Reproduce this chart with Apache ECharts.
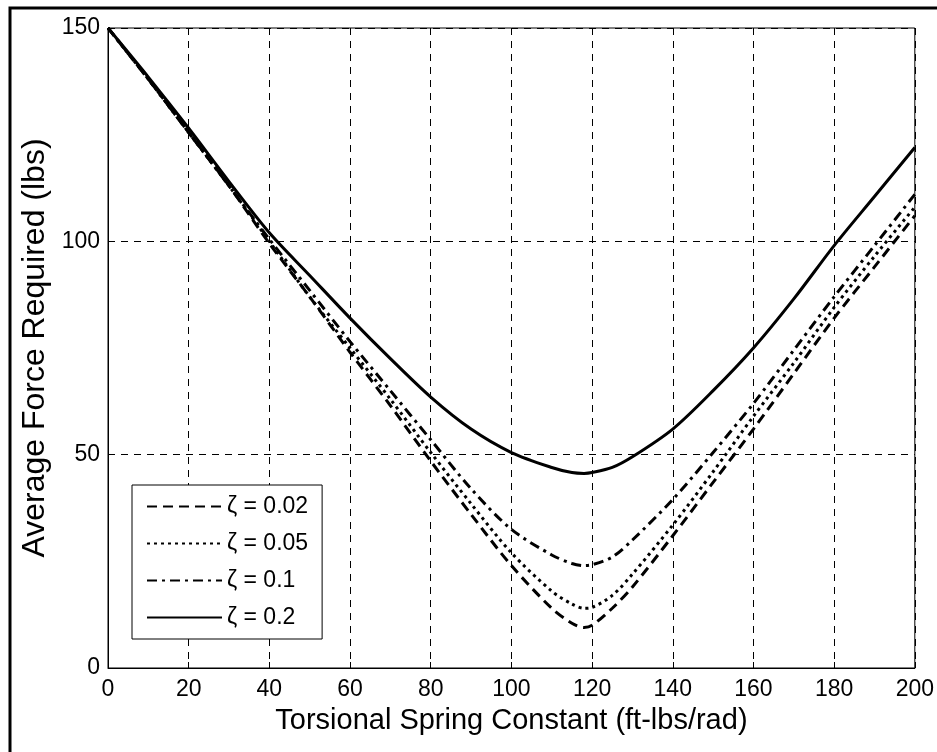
<!DOCTYPE html>
<html>
<head>
<meta charset="utf-8">
<script src="https://cdn.jsdelivr.net/npm/echarts@6/dist/echarts.min.js"></script>
<style>
html,body{margin:0;padding:0;background:#fff;}
#c{width:937px;height:752px;}
</style>
</head>
<body>
<div id="c"></div>
<script>
// Torsional spring constant (ft-lbs/rad)
var springK = [0, 10, 20, 30, 40, 50, 60, 70, 80, 90, 100, 110, 115, 118, 120, 125, 130, 140, 150, 160, 170, 180, 190, 200];
// Average force required (lbs) for each damping ratio
var force002 = [150, 138, 125.5, 113, 99.5, 87, 74, 61.5, 48.5, 36, 24, 14, 10.5, 9.5, 10, 14, 19, 31, 43.5, 56, 69, 82, 94, 106];
var force005 = [150, 138, 125.5, 113, 100, 87, 75, 63, 50.5, 38.5, 27, 18, 15, 14, 14.2, 17, 22, 33.5, 46, 59, 71.5, 84.5, 96.5, 108];
var force01  = [150, 138, 125.5, 113, 100.5, 88.5, 76.5, 65, 53.5, 42, 32.5, 26.5, 24.5, 24, 24.2, 26, 30, 39.5, 50.5, 62, 74.5, 87, 99, 111];
var force02  = [150, 138.5, 126.5, 114, 102, 92, 82, 72.5, 63.5, 56, 50.5, 47, 45.8, 45.6, 45.8, 47, 49.5, 56, 65, 75, 86.5, 99, 110.5, 122];
var seriesNames = ['\u03B6 = 0.02', '\u03B6 = 0.05', '\u03B6 = 0.1', '\u03B6 = 0.2'];
var xTicks = [0, 20, 40, 60, 80, 100, 120, 140, 160, 180, 200];
var yTicks = [0, 50, 100, 150];
var xTitle = 'Torsional Spring Constant (ft-lbs/rad)';
var yTitle = 'Average Force Required (lbs)';

function pairs(ys){ return springK.map(function(k,i){ return [k, ys[i]]; }); }

var font = 'Liberation Sans, Arial, sans-serif';
var chart = echarts.init(document.getElementById('c'), null, {renderer:'canvas'});
var dashes = [[10,6],[3,4],[10,5,3,5],'solid'];
var datas = [force002, force005, force01, force02];
var series = datas.map(function(d,i){
  return {
    name: seriesNames[i], type:'line', data: pairs(d), smooth: 0.3,
    showSymbol:false, symbol:'none',
    lineStyle:{color:'#000', width:3, type: dashes[i]},
    itemStyle:{color:'rgba(0,0,0,0)'}, z: 5
  };
});

chart.setOption({
  animation:false,
  backgroundColor:'#fff',
  graphic:[{type:'rect', shape:{x:10, y:8, width:960, height:780}, style:{fill:'none', stroke:'#000', lineWidth:3}, z:-1}],
  grid:{left:108, top:28, right:18, bottom:84, show:true, borderColor:'#000', borderWidth:1, backgroundColor:'#fff'},
  legend:{
    orient:'vertical', left:132, top:485, itemWidth:75, itemHeight:14, itemGap:14,
    padding:[10, 14, 10, 14], borderColor:'#000', borderWidth:1, backgroundColor:'#fff',
    itemStyle:{opacity:0},
    textStyle:{fontFamily:font, fontSize:23, color:'#000', lineHeight:23},
    data: seriesNames
  },
  xAxis:{
    type:'value', min:0, max:200, interval:20,
    name: xTitle, nameLocation:'middle', nameGap:38,
    nameTextStyle:{fontFamily:font, fontSize:29, color:'#000'},
    axisLine:{show:true, lineStyle:{color:'#000', width:1}},
    axisTick:{show:true, inside:true, length:6, lineStyle:{color:'#000'}},
    axisLabel:{fontFamily:font, fontSize:23, color:'#000', margin:10,
      formatter:function(v){ return xTicks.indexOf(v)>=0 ? String(v) : ''; }},
    splitLine:{show:true, lineStyle:{color:'#000', width:1, type:[7,6]}}
  },
  yAxis:{
    type:'value', min:0, max:150, interval:50,
    name: yTitle, nameLocation:'middle', nameGap:57,
    nameTextStyle:{fontFamily:font, fontSize:32, color:'#000'},
    axisLine:{show:true, lineStyle:{color:'#000', width:1}},
    axisTick:{show:true, inside:true, length:6, lineStyle:{color:'#000'}},
    axisLabel:{fontFamily:font, fontSize:23, color:'#000', margin:8,
      formatter:function(v){ return yTicks.indexOf(v)>=0 ? String(v) : ''; }},
    splitLine:{show:true, lineStyle:{color:'#000', width:1, type:[7,6]}}
  },
  series: series
});
</script>
</body>
</html>
